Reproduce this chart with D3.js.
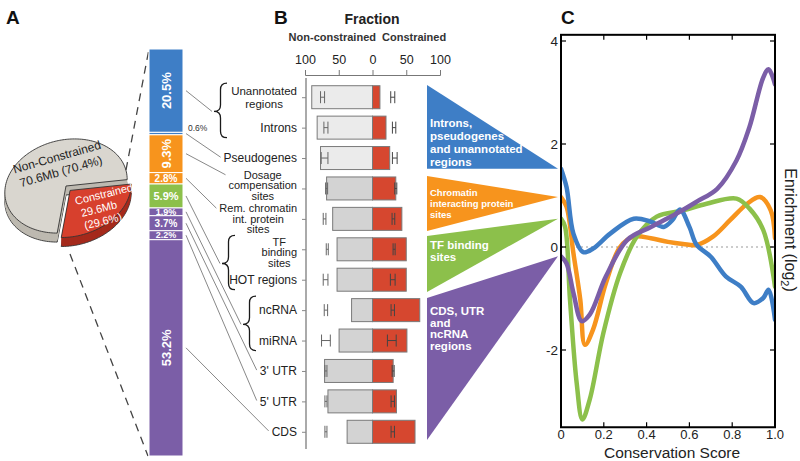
<!DOCTYPE html>
<html><head><meta charset="utf-8">
<script src="https://cdn.jsdelivr.net/npm/d3@7"></script>
<style>body{margin:0;background:#fff}svg{display:block}</style>
</head><body><svg id="c" width="800" height="461"></svg>
<script>
// ---------------- DATA ----------------
const pieLabels = ["Non-Constrained", "Constrained"];
const pieMb = [70.6, 29.6];
const piePct = [70.4, 29.6];

const stackLabels = ["20.5%", "0.6%", "9.3%", "2.8%", "5.9%", "1.9%", "3.7%", "2.2%", "53.2%"];
const stackValues = [20.5, 0.6, 9.3, 2.8, 5.9, 1.9, 3.7, 2.2, 53.2];
const stackGroup = [0, 0, 1, 1, 2, 3, 3, 3, 3];
const stackTargetRow = [0, 2, 3, 4, 5, 7, 9, 10, 11];

const categories = ["Unannotated\nregions", "Introns", "Pseudogenes", "Dosage\ncompensation\nsites",
  "Rem. chromatin\nint. protein\nsites", "TF\nbinding\nsites", "HOT regions", "ncRNA", "miRNA",
  "3' UTR", "5' UTR", "CDS"];
const nonConstrained = [90, 82, 77, 68, 59, 52.5, 52.5, 31, 49.5, 71, 66, 37.6];
const constrained = [11, 20, 25.5, 34.5, 43.5, 50, 50, 70, 51, 30.6, 35.5, 63];
const ncExpected = [74, 69, 71, 68, 71, 67, 69.5, 69, 69, 69, 69, 69];
const ncExpErr = [3, 3, 5, 1.5, 2, 1.5, 3.5, 2.5, 6.5, 1.5, 1.5, 1.5];
const cExpected = [30, 32, 33, 34.5, 31, 32, 30, 30, 28.6, 30.6, 30, 30];
const cExpErr = [3, 2.5, 3.5, 1.5, 2, 1.5, 3.5, 2.5, 6.5, 1.5, 2.5, 2.5];
const lightRows = [0, 1, 2];
const braceRows = [[0, 1], [5, 6], [7, 8]];
const fractionTicks = [-100, -50, 0, 50, 100];

const groupNames = ["Introns,\npseudogenes\nand unannotated\nregions", "Chromatin\ninteracting protein\nsites", "TF binding\nsites", "CDS, UTR\nand\nncRNA\nregions"];
const groupColors = ["#3e7ec6", "#f7941d", "#8cc04b", "#7b5ea7"];

const blueX = [0, 0.026, 0.058, 0.104, 0.15, 0.23, 0.34, 0.42, 0.48, 0.52, 0.556, 0.60, 0.634, 0.70, 0.77, 0.84, 0.90, 0.945, 0.97, 1.0];
const blueY = [1.52, 1.16, 0.26, -0.1, -0.03, 0.26, 0.55, 0.49, 0.39, 0.52, 0.73, 0.39, 0.04, -0.19, -0.57, -0.77, -1.09, -0.99, -0.83, -1.41];
const orangeX = [0, 0.026, 0.058, 0.09, 0.112, 0.15, 0.21, 0.276, 0.34, 0.42, 0.5, 0.57, 0.634, 0.71, 0.79, 0.87, 0.93, 0.98, 1.0];
const orangeY = [0.97, 0.78, -0.12, -1.02, -1.9, -1.6, -0.7, 0.0, 0.2, 0.17, 0.1, 0.06, 0.04, 0.2, 0.52, 0.84, 0.97, 0.71, 0.17];
const greenX = [0, 0.019, 0.042, 0.073, 0.10, 0.135, 0.198, 0.276, 0.354, 0.447, 0.57, 0.68, 0.82, 0.88, 0.945, 1.0];
const greenY = [0.55, 0.39, -1.02, -2.63, -3.35, -2.95, -1.67, -0.51, 0.2, 0.59, 0.71, 0.84, 0.94, 0.75, 0.33, -0.77];
const purpleX = [0, 0.026, 0.058, 0.097, 0.135, 0.21, 0.31, 0.42, 0.54, 0.634, 0.73, 0.82, 0.88, 0.945, 0.97, 1.0];
const purpleY = [-0.18, -0.32, -0.89, -1.44, -1.31, -0.57, 0.14, 0.39, 0.65, 0.88, 1.13, 1.68, 2.32, 3.29, 3.45, 3.16];
const scoreTicks = [0, 0.2, 0.4, 0.6, 0.8, 1.0];
const enrichTicks = [-2, 0, 2, 4];

// ---------------- DRAW ----------------
const FONT = '"Liberation Sans", Arial, Helvetica, sans-serif';
const svg = d3.select("#c").style("font-family", FONT);

// panel letters
[["A", 6], ["B", 274], ["C", 561]].forEach(([t, x]) =>
  svg.append("text").attr("x", x).attr("y", 24).attr("font-size", 19).attr("font-weight", "bold").attr("fill", "#111").text(t));

// ===== Panel A : pie =====
const pieCx = 66, pieCy = 186, pieRx = 62, pieRy = 46, pieRot = -14 * Math.PI / 180, pieDepth = 9;
function ellPt(theta, cx, cy) {
  const c = Math.cos(theta), s = Math.sin(theta);
  const u = c * Math.cos(-pieRot) - s * Math.sin(-pieRot);
  const v = c * Math.sin(-pieRot) + s * Math.cos(-pieRot);
  const r = 1 / Math.sqrt(u * u / (pieRx * pieRx) + v * v / (pieRy * pieRy));
  return [cx + r * c, cy + r * s];
}
function sectorPath(a0, a1, cx, cy) {
  const pts = [[cx, cy]];
  const n = Math.max(8, Math.ceil(Math.abs(a1 - a0) / (Math.PI / 90)));
  for (let i = 0; i <= n; i++) pts.push(ellPt(a0 + (a1 - a0) * i / n, cx, cy));
  return "M" + pts.map(p => p[0].toFixed(2) + "," + p[1].toFixed(2)).join("L") + "Z";
}
const pieStart = 190.6 * Math.PI / 180;
const arcs = d3.pie().sort(null).startAngle(pieStart).endAngle(pieStart + 2 * Math.PI)(piePct);
const pieTop = ["#d9d6cf", "#d7402d"], pieSide = ["#bdb9b0", "#a52a1c"];
const pieG = svg.append("g");
arcs.forEach((a, i) => {
  const t0 = a.startAngle - Math.PI / 2, t1 = a.endAngle - Math.PI / 2;
  const mid = (t0 + t1) / 2;
  const ex = i === 1 ? 6 : 0;
  const cx = pieCx + ex * Math.cos(mid), cy = pieCy + ex * Math.sin(mid);
  for (let d = pieDepth; d >= 1; d--) {
    pieG.append("path").attr("d", sectorPath(t0, t1, cx, cy + d))
      .attr("fill", pieSide[i])
      .attr("stroke", d === pieDepth ? "#333" : "none").attr("stroke-width", 0.9);
  }
  pieG.append("path").attr("d", sectorPath(t0, t1, cx, cy))
    .attr("fill", pieTop[i]).attr("stroke", "#333").attr("stroke-width", 0.9);
});
// pie texts
const t1g = svg.append("g").attr("transform", "translate(58,161) rotate(-16)");
t1g.append("text").attr("text-anchor", "middle").attr("font-size", 12).attr("fill", "#222").text(pieLabels[0]);
t1g.append("text").attr("text-anchor", "middle").attr("y", 15).attr("font-size", 12).attr("fill", "#222")
  .text(`${pieMb[0]}Mb (${piePct[0]}%)`);
const t2g = svg.append("g").attr("transform", "translate(76,205) rotate(-14)");
t2g.append("text").attr("font-size", 11).attr("fill", "#fff").text(pieLabels[1]);
t2g.append("text").attr("x", 3).attr("y", 13).attr("font-size", 11).attr("fill", "#fff").text(`${pieMb[1]}Mb`);
t2g.append("text").attr("x", 3).attr("y", 26).attr("font-size", 11).attr("fill", "#fff").text(`(${piePct[1]}%)`);

// ===== Panel A : stacked bar =====
const barX0 = 149, barX1 = 183;
const total = d3.sum(stackValues);
const yS = d3.scaleLinear().domain([0, total]).range([49, 456]);
const cum = d3.cumsum(stackValues);
// dashed zoom lines
svg.append("line").attr("x1", 126).attr("y1", 170).attr("x2", barX0).attr("y2", yS(0))
  .attr("stroke", "#444").attr("stroke-width", 1.3).attr("stroke-dasharray", "8,6");
svg.append("line").attr("x1", 70).attr("y1", 254).attr("x2", barX0 - 1).attr("y2", yS(total))
  .attr("stroke", "#444").attr("stroke-width", 1.3).attr("stroke-dasharray", "8,6");

stackValues.forEach((v, i) => {
  const y0 = yS(cum[i] - v), y1 = yS(cum[i]);
  svg.append("rect").attr("x", barX0).attr("y", y0).attr("width", barX1 - barX0).attr("height", y1 - y0)
    .attr("fill", groupColors[stackGroup[i]]).attr("stroke", "#fff").attr("stroke-width", 1);
  const ym = (y0 + y1) / 2, xm = (barX0 + barX1) / 2;
  if (v >= 9) {
    svg.append("text").attr("transform", `translate(${xm + 4.5},${ym}) rotate(-90)`)
      .attr("text-anchor", "middle").attr("font-size", 13).attr("font-weight", "bold").attr("fill", "#fff").text(stackLabels[i]);
  } else if (v >= 1) {
    svg.append("text").attr("x", xm).attr("y", ym + (v > 2.5 ? 3.6 : 3.2)).attr("text-anchor", "middle")
      .attr("font-size", v > 5 ? 11 : (v > 2.5 ? 10 : 9)).attr("font-weight", "bold").attr("fill", "#fff").text(stackLabels[i]);
  } else {
    svg.append("text").attr("x", barX1 + 5).attr("y", ym - 3).attr("font-size", 8.5).attr("fill", "#333").text(stackLabels[i]);
  }
});

// ===== Panel B =====
const xB = d3.scaleLinear().domain([-100, 100]).range([305, 440]);
const yB = d3.scalePoint().domain(d3.range(categories.length)).range([82, 447]).padding(0.5);
const barH = 23;

svg.append("text").attr("x", 372).attr("y", 24).attr("text-anchor", "middle").attr("font-size", 14)
  .attr("font-weight", "bold").attr("fill", "#222").text("Fraction");
svg.append("text").attr("x", 376).attr("y", 41).attr("text-anchor", "end").attr("font-size", 11)
  .attr("font-weight", "bold").attr("fill", "#333").text("Non-constrained");
svg.append("text").attr("x", 382).attr("y", 41).attr("font-size", 11)
  .attr("font-weight", "bold").attr("fill", "#333").text("Constrained");

const axT = svg.append("g").attr("transform", "translate(0,75)")
  .call(d3.axisTop(xB).tickValues(fractionTicks).tickFormat(d => Math.abs(d)).tickSize(5).tickSizeOuter(5));
axT.select(".domain").attr("stroke", "#777");
axT.selectAll(".tick line").attr("stroke", "#777");
axT.selectAll("text").attr("font-family", FONT).attr("font-size", 12.5).attr("fill", "#222").attr("dy", "-3");

// vertical axis
const axL = svg.append("g").attr("transform", `translate(${xB(-100) + 1},0)`)
  .call(d3.axisLeft(yB).tickSize(4).tickFormat(""));
axL.select(".domain").attr("d", "M0,78V449").attr("stroke", "#aaa").attr("stroke-width", 2);
axL.selectAll(".tick line").attr("stroke", "#888");

categories.forEach((c, i) => {
  const yc = yB(i);
  const light = lightRows.includes(i);
  svg.append("rect").attr("x", xB(-nonConstrained[i])).attr("y", yc - barH / 2)
    .attr("width", xB(0) - xB(-nonConstrained[i])).attr("height", barH)
    .attr("fill", light ? "#ebebeb" : "#d3d3d3").attr("stroke", "#7a7a7a").attr("stroke-width", 1);
  svg.append("rect").attr("x", xB(0)).attr("y", yc - barH / 2)
    .attr("width", xB(constrained[i]) - xB(0)).attr("height", barH)
    .attr("fill", "#d6472f").attr("stroke", "#7a7a7a").attr("stroke-width", 1);
  // expected ranges (H marks)
  [[-ncExpected[i], ncExpErr[i], "#666"], [cExpected[i], cExpErr[i], "#444"]].forEach(([c0, e, col]) => {
    const xa = xB(c0 - e), xb = xB(c0 + e);
    const p = `M${xa},${yc - 6}V${yc + 6}M${xb},${yc - 6}V${yc + 6}M${xa},${yc}H${xb}`;
    svg.append("path").attr("d", p).attr("stroke", col).attr("stroke-width", 1).attr("fill", "none");
  });
});

// category labels
const labelRight = 297;
const labelBoxes = [];
const labelShift = { 3: -3, 4: 0, 5: 3 };
categories.forEach((c, i) => {
  const lines = c.split("\n");
  const three = lines.length === 3;
  const fs = three ? 11 : (lines.length === 2 ? 11.5 : 12);
  const lh = three ? 10.5 : 13.2;
  const g = svg.append("g");
  const t = g.append("text").attr("font-size", fs).attr("fill", "#222").attr("text-anchor", "middle");
  const y0 = yB(i) + fs * 0.345 + (labelShift[i] || 0) - (lines.length - 1) * lh / 2;
  lines.forEach((l, k) => t.append("tspan").attr("x", 0).attr("y", y0 + k * lh).text(l));
  const bb = t.node().getBBox();
  g.attr("transform", `translate(${labelRight - bb.width / 2},0)`);
  labelBoxes.push({ x: labelRight - bb.width, y: bb.y, w: bb.width, h: bb.height });
});

// braces
function bracePath(xTip, y0, y1, yTip, w) {
  const xm = xTip + w / 2, xr = xTip + w, r = w / 2;
  return `M${xr},${y0}Q${xm},${y0} ${xm},${y0 + r}L${xm},${yTip - r}Q${xm},${yTip} ${xTip},${yTip}` +
    `Q${xm},${yTip} ${xm},${yTip + r}L${xm},${y1 - r}Q${xm},${y1} ${xr},${y1}`;
}
const braceX = [214, 222, 243];
const braceTips = {};
braceRows.forEach(([a, b], k) => {
  const y0 = yB(a) - 14, y1 = yB(b) + 10, yt = (y0 + y1) / 2 + 1;
  svg.append("path").attr("d", bracePath(braceX[k], y0, y1, yt, 13)).attr("fill", "none")
    .attr("stroke", "#1a1a1a").attr("stroke-width", 1.3);
  braceTips[a] = [braceX[k] - 2, yt];
});

// connector lines
stackValues.forEach((v, i) => {
  const ym = yS(cum[i] - v / 2);
  const row = stackTargetRow[i];
  let end;
  if (braceTips[row]) end = braceTips[row];
  else { const b = labelBoxes[row]; end = [b.x - 3, b.y + 6]; }
  svg.append("line").attr("x1", barX1 + 3).attr("y1", ym).attr("x2", end[0]).attr("y2", end[1])
    .attr("stroke", "#555").attr("stroke-width", 0.7);
});

// ===== Panel C scales =====
const xC = d3.scaleLinear().domain([0, 1]).range([561, 775]);
const yC = d3.scaleLinear().domain([-2, 4]).range([350, 41]);
const frameTop = yC(4.12), frameBot = yC(-3.5);

// group triangles (pointing to panel C start values)
const seriesStart = [blueY[0], orangeY[0], greenY[0], purpleY[0]];
const triTop = [85, 176, 236, 298], triBot = [null, 231, 292, 440];
const triX0 = 427, triX1 = xC(0) - 3;
groupColors.forEach((col, k) => {
  const ay = yC(seriesStart[k]);
  const bot = triBot[k] === null ? ay : triBot[k];
  svg.append("path").attr("d", `M${triX0},${triTop[k]}L${triX1},${ay}L${triX0},${bot}Z`).attr("fill", col);
});
const gtSpec = [{ fs: 11.5, lh: 13, y: 127 }, { fs: 9.5, lh: 11, y: 196 }, { fs: 11.5, lh: 12, y: 249 }, { fs: 11.5, lh: 11.5, y: 315 }];
groupNames.forEach((n, k) => {
  const t = svg.append("text").attr("font-size", gtSpec[k].fs).attr("font-weight", "bold").attr("fill", "#fff");
  n.split("\n").forEach((l, j) => t.append("tspan").attr("x", 430).attr("y", gtSpec[k].y + j * gtSpec[k].lh).text(l));
});

// ===== Panel C =====
svg.append("defs").append("clipPath").attr("id", "clipC").append("rect")
  .attr("x", xC(0)).attr("y", frameTop).attr("width", xC(1) - xC(0)).attr("height", frameBot - frameTop);
svg.append("line").attr("x1", xC(0)).attr("x2", xC(1)).attr("y1", yC(0)).attr("y2", yC(0))
  .attr("stroke", "#999").attr("stroke-width", 1).attr("stroke-dasharray", "2,3");
const series = [[blueX, blueY, groupColors[0]], [orangeX, orangeY, groupColors[1]], [greenX, greenY, groupColors[2]], [purpleX, purpleY, groupColors[3]]];
const lineGen = d3.line().x(d => xC(d[0])).y(d => yC(d[1])).curve(d3.curveCatmullRom.alpha(0.5));
const lg = svg.append("g").attr("clip-path", "url(#clipC)");
[series[1], series[2], series[0], series[3]].forEach(([xs, ys, col]) => {
  lg.append("path").attr("d", lineGen(xs.map((x, i) => [x, ys[i]]))).attr("fill", "none")
    .attr("stroke", col).attr("stroke-width", 4.5).attr("stroke-linecap", "round").attr("stroke-linejoin", "round");
});
// frame
svg.append("rect").attr("x", xC(0)).attr("y", frameTop).attr("width", xC(1) - xC(0)).attr("height", frameBot - frameTop)
  .attr("fill", "none").attr("stroke", "#000").attr("stroke-width", 2);
// ticks inward
const tk = svg.append("g").attr("stroke", "#000").attr("stroke-width", 1.2);
scoreTicks.forEach(v => {
  tk.append("line").attr("x1", xC(v)).attr("x2", xC(v)).attr("y1", frameTop).attr("y2", frameTop + 5);
  tk.append("line").attr("x1", xC(v)).attr("x2", xC(v)).attr("y1", frameBot).attr("y2", frameBot - 5);
});
enrichTicks.forEach(v => {
  tk.append("line").attr("x1", xC(0)).attr("x2", xC(0) + 5).attr("y1", yC(v)).attr("y2", yC(v));
  tk.append("line").attr("x1", xC(1)).attr("x2", xC(1) - 5).attr("y1", yC(v)).attr("y2", yC(v));
});
scoreTicks.forEach(v => svg.append("text").attr("x", xC(v)).attr("y", frameBot + 12).attr("text-anchor", "middle")
  .attr("font-size", 13).attr("fill", "#222").text(v === 0 ? "0" : v.toFixed(1)));
enrichTicks.forEach(v => svg.append("text").attr("x", xC(0) - 3).attr("y", yC(v) + 5).attr("text-anchor", "end")
  .attr("font-size", 13.5).attr("fill", "#222").text(v));
svg.append("text").attr("x", (xC(0) + xC(1)) / 2 + 4).attr("y", 458).attr("text-anchor", "middle")
  .attr("font-size", 15.5).attr("fill", "#222").text("Conservation Score");
const yl = svg.append("text").attr("transform", "translate(785,230) rotate(90)").attr("text-anchor", "middle")
  .attr("font-size", 16).attr("fill", "#222");
yl.append("tspan").text("Enrichment (log");
yl.append("tspan").attr("font-size", 11).attr("dy", 4).text("2");
yl.append("tspan").attr("dy", -4).text(")");
</script></body></html>
